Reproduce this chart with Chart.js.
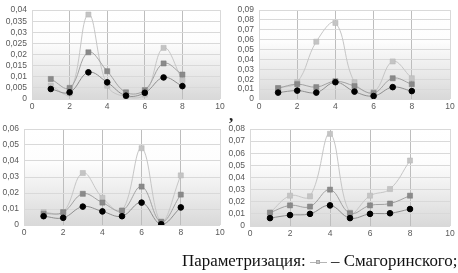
<!DOCTYPE html>
<html>
<head>
<meta charset="utf-8">
<script src="https://cdn.jsdelivr.net/npm/chart.js@4/dist/chart.umd.min.js"></script>
<style>
    body { margin: 0; background: #fff; width: 458px; height: 273px; overflow: hidden; position: relative; }
    .panel { position: absolute; }
    .comma { position: absolute; left: 229px; top: 106px; font: bold 17px "Liberation Serif"; color: #222; }
    .caption { position: absolute; left: 182px; top: 251px; font: 16.9px "Liberation Serif"; color: #111; white-space: nowrap; }
    .mark { display: inline-block; position: relative; width: 17px; height: 10px; vertical-align: -1px; }
    .mark .ln { position: absolute; left: 0; right: 0; top: 5px; height: 1px; background: #b5b5b5; }
    .mark .sq { position: absolute; left: 6px; top: 3px; width: 4px; height: 4px; background: #c4c4c4; border: 1px solid #a8a8a8; box-sizing: border-box; }
</style>
</head>
<body>

<div class="panel" id="box1" style="left:0;top:0;width:230px;height:114px"><canvas id="c1"></canvas></div>
<div class="panel" id="box2" style="left:228px;top:0;width:230px;height:114px"><canvas id="c2"></canvas></div>
<div class="panel" id="box3" style="left:0;top:118px;width:230px;height:122px"><canvas id="c3"></canvas></div>
<div class="panel" id="box4" style="left:228px;top:118px;width:230px;height:123px"><canvas id="c4"></canvas></div>
<div class="comma">,</div>
<div class="caption">Параметризация: <span class="mark"><span class="ln"></span><span class="sq"></span></span> – Смагоринского;</div>

<script>
//x positions of the points (same for every panel)
var xs = [1, 2, 3, 4, 5, 6, 7, 8];

//top-left
var p1Light = [0.006, 0.0025, 0.038, 0.006, 0.001, 0.002, 0.023, 0.0085];
var p1Mid = [0.009, 0.005, 0.021, 0.0125, 0.003, 0.004, 0.016, 0.011];
var p1Dark = [0.0045, 0.003, 0.012, 0.0075, 0.0015, 0.0028, 0.0097, 0.0058];

//top-right
var p2Light = [0.011, 0.017, 0.058, 0.077, 0.017, 0.007, 0.038, 0.021];
var p2Mid = [0.011, 0.015, 0.012, 0.018, 0.013, 0.006, 0.021, 0.015];
var p2Dark = [0.0065, 0.0085, 0.0065, 0.017, 0.0075, 0.003, 0.012, 0.008];

//bottom-left
var p3Light = [0.008, 0.008, 0.0325, 0.017, 0.009, 0.048, 0.002, 0.031];
var p3Mid = [0.007, 0.008, 0.0195, 0.014, 0.009, 0.024, 0.002, 0.019];
var p3Dark = [0.0055, 0.0045, 0.0115, 0.0085, 0.0055, 0.014, 0.0005, 0.011];

//bottom-right
var p4Light = [0.011, 0.025, 0.0245, 0.076, 0.011, 0.025, 0.0305, 0.054];
var p4Mid = [0.011, 0.017, 0.016, 0.030, 0.0105, 0.017, 0.0185, 0.025];
var p4Dark = [0.0065, 0.009, 0.010, 0.017, 0.0065, 0.010, 0.0105, 0.014];

//axis ranges
var xMax = 10, xStep = 2;
var yMax = [0.04, 0.09, 0.06, 0.08];
var yStep = [0.005, 0.01, 0.01, 0.01];

function pts(vals) {
    return vals.map((v, i) => ({ x: xs[i], y: v }));
}

//excel-like grey fade in the plot area
var plotFill = {
    id: 'plotFill',
    beforeDraw: function (chart) {
        var a = chart.chartArea;
        var ctx = chart.ctx;
        var g = ctx.createLinearGradient(0, a.top, 0, a.bottom);
        g.addColorStop(0, '#ffffff');
        g.addColorStop(0.35, '#fdfdfd');
        g.addColorStop(1, '#d9d9d9');
        ctx.save();
        ctx.fillStyle = g;
        ctx.fillRect(a.left, a.top, a.right - a.left, a.bottom - a.top);
        ctx.restore();
    }
};

function makeChart(id, light, mid, dark, n, yw, pad) {
    var tickFont = { family: 'Liberation Sans', size: 8.5 };
    return new Chart(document.getElementById(id), {
        type: 'line',
        data: {
            datasets: [
                { data: pts(dark), borderColor: '#8f8f8f', borderWidth: 1, pointStyle: 'circle', pointRadius: 2.8, pointBackgroundColor: '#000', pointBorderColor: '#000', tension: 0.4 },
                { data: pts(mid), borderColor: '#a3a3a3', borderWidth: 1, pointStyle: 'rect', pointRadius: 3.6, pointBackgroundColor: '#8a8a8a', pointBorderColor: '#7a7a7a', pointBorderWidth: 0.5, tension: 0.4 },
                { data: pts(light), borderColor: '#c6c6c6', borderWidth: 1, pointStyle: 'rect', pointRadius: 3.6, pointBackgroundColor: '#c4c4c4', pointBorderColor: '#b4b4b4', pointBorderWidth: 0.5, tension: 0.4 }
            ]
        },
        options: {
            responsive: true,
            maintainAspectRatio: false,
            animation: false,
            events: [],
            layout: { padding: pad },
            plugins: { legend: { display: false }, tooltip: { enabled: false } },
            scales: {
                x: {
                    type: 'linear', min: 0, max: xMax,
                    ticks: { stepSize: xStep, font: tickFont, color: '#595959', padding: 3 },
                    grid: {
                        drawTicks: false,
                        color: function (c) { return (c.tick && c.tick.value > 0 && c.tick.value < xMax) ? '#bdbdbd' : '#d9d9d9'; }
                    },
                    border: { display: false },
                    afterFit: function (s) { s.height = 15; }
                },
                y: {
                    min: 0, max: yMax[n],
                    ticks: {
                        stepSize: yStep[n], autoSkip: false, font: tickFont, color: '#595959', padding: 5,
                        callback: function (v) { return String(Number(v.toFixed(4))).replace('.', ','); }
                    },
                    grid: { drawTicks: false, color: '#d9d9d9' },
                    border: { display: false },
                    afterFit: function (s) { s.width = yw; }
                }
            }
        },
        plugins: [plotFill]
    });
}

makeChart('c1', p1Light, p1Mid, p1Dark, 0, 32, { top: 4, right: 10 });
makeChart('c2', p2Light, p2Mid, p2Dark, 1, 31, { top: 5, right: 8 });
makeChart('c3', p3Light, p3Mid, p3Dark, 2, 24, { top: 11, right: 10 });
makeChart('c4', p4Light, p4Mid, p4Dark, 3, 22, { top: 11, right: 8 });
</script>
</body>
</html>
